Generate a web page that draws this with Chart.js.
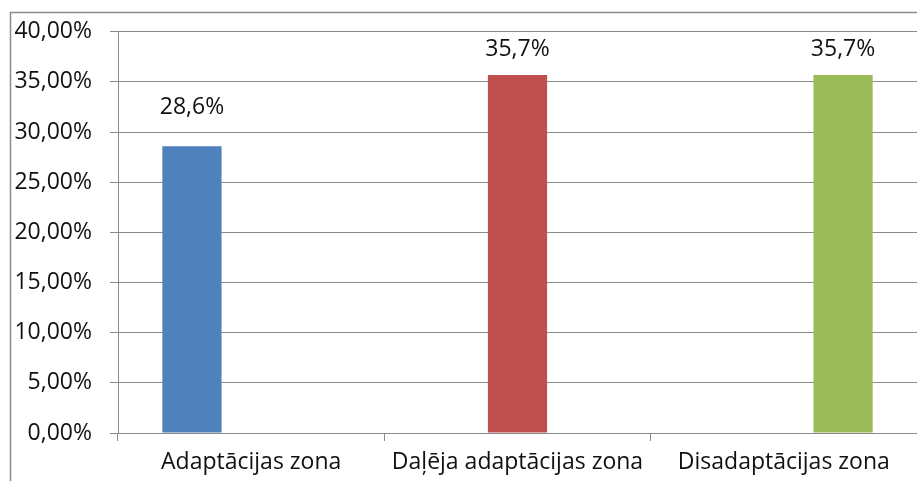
<!DOCTYPE html>
<html>
<head>
<meta charset="utf-8">
<script src="https://cdn.jsdelivr.net/npm/chart.js@4/dist/chart.umd.min.js"></script>
<style>
  html, body { margin: 0; padding: 0; background: #fff; }
  #wrap { position: relative; width: 917px; height: 481px; }
</style>
</head>
<body>
<div id="wrap"><canvas id="c" width="917" height="481"></canvas></div>
<script>
// values (percent)
const categories = ["Adaptācijas zona", "Daļēja adaptācijas zona", "Disadaptācijas zona"];
const adaptValues = [28.6, null, null];
const partialValues = [null, 35.7, null];
const disadaptValues = [null, null, 35.7];
const valueLabels = ["28,6%", "35,7%", "35,7%"];

const FONT = "'Open Sans'";
const gridColor = "#8a8a8a";
const textColor = "#111";

// outer frame (only left and top edges are visible in the reference)
const framePlugin = {
  id: "frame",
  beforeDraw(chart) {
    const c = chart.ctx;
    c.save();
    c.strokeStyle = "#8c8c8c";
    c.lineWidth = 1.5;
    c.beginPath();
    c.moveTo(10.5, 481);
    c.lineTo(10.5, 12.5);
    c.lineTo(917, 12.5);
    c.stroke();
    c.restore();
  },
};

// value labels above the bars
const labelPlugin = {
  id: "valueLabels",
  afterDatasetsDraw(chart) {
    const c = chart.ctx;
    c.save();
    c.font = "23px " + FONT;
    c.fillStyle = textColor;
    c.textAlign = "center";
    c.textBaseline = "alphabetic";
    chart.data.datasets.forEach((ds, i) => {
      const meta = chart.getDatasetMeta(i);
      ds.data.forEach((v, j) => {
        if (v == null) return;
        const bar = meta.data[j];
        const y = Math.max(bar.y - 32, chart.chartArea.top + 24);
        c.fillText(valueLabels[i], bar.x, y);
      });
    });
    c.restore();
  },
};

new Chart(document.getElementById("c"), {
  type: "bar",
  data: {
    labels: categories,
    datasets: [
      { data: adaptValues, backgroundColor: "#4f81bd" },
      { data: partialValues, backgroundColor: "#c0504d" },
      { data: disadaptValues, backgroundColor: "#9bbb59" },
    ],
  },
  options: {
    responsive: false,
    animation: false,
    categoryPercentage: 0.667,
    barPercentage: 1,
    layout: { padding: { top: 29, right: 0, left: 0, bottom: 0 } },
    plugins: {
      legend: { display: false },
      tooltip: { enabled: false },
    },
    scales: {
      x: {
        offset: true,
        grid: {
          offset: true,
          drawOnChartArea: false,
          drawTicks: true,
          tickLength: 8,
          color: gridColor,
        },
        border: { color: gridColor, width: 1 },
        ticks: {
          font: { family: FONT, size: 23 },
          color: textColor,
          padding: 8,
          maxRotation: 0,
          autoSkip: false,
        },
        afterFit: (s) => { s.height = 48; },
      },
      y: {
        min: 0,
        max: 40,
        grid: { color: gridColor, tickLength: 8 },
        border: { color: gridColor, width: 1 },
        ticks: {
          stepSize: 5,
          font: { family: FONT, size: 23 },
          color: textColor,
          padding: 18,
          callback: (v) => v.toFixed(2).replace(".", ",") + "%",
        },
        afterFit: (s) => { s.width = 118; },
      },
    },
  },
  plugins: [framePlugin, labelPlugin],
});
</script>
</body>
</html>
